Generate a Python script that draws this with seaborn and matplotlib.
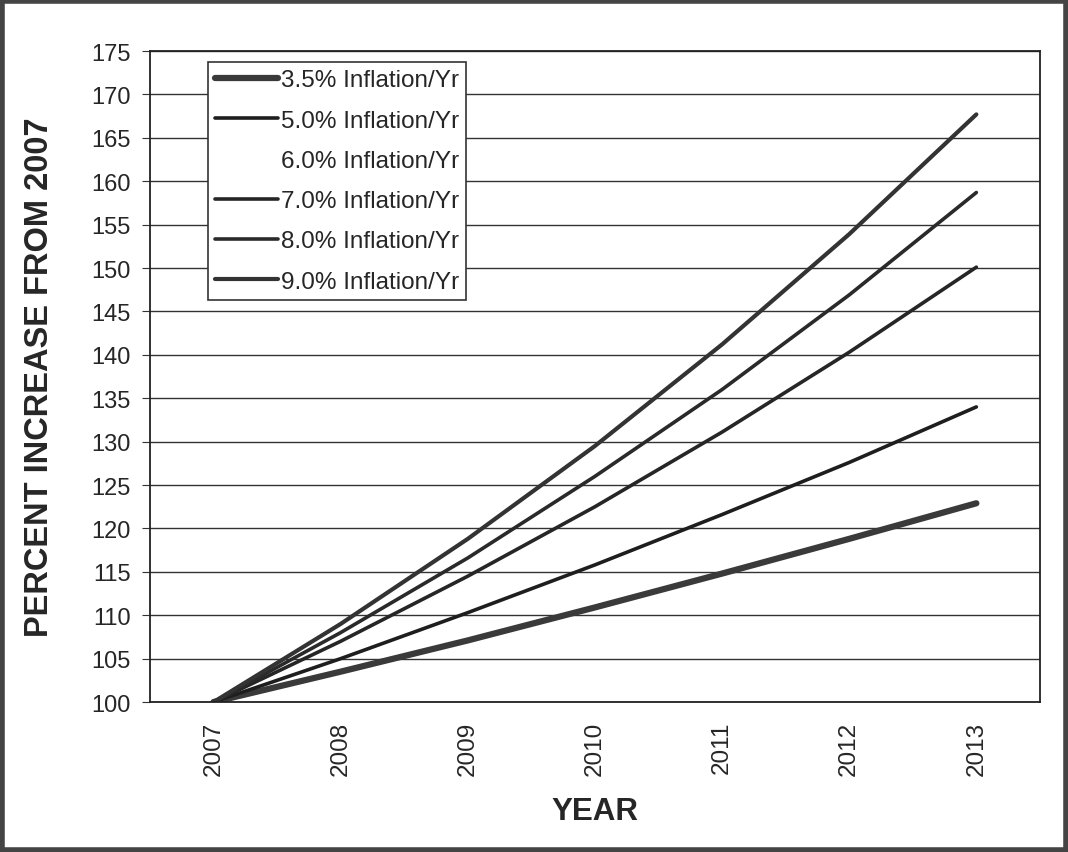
import matplotlib
matplotlib.use('Agg')
import matplotlib.pyplot as plt
import seaborn as sns
import pandas as pd
from matplotlib.patches import Rectangle

# 데이터
years = ['2007', '2008', '2009', '2010', '2011', '2012', '2013']
infl_35 = [100, 103.5, 107.1, 110.9, 114.8, 118.8, 122.9]
infl_50 = [100, 105.0, 110.3, 115.8, 121.6, 127.6, 134.0]
infl_60 = [100, 106.0, 112.4, 119.1, 126.2, 133.8, 141.9]
infl_70 = [100, 107.0, 114.5, 122.5, 131.1, 140.3, 150.1]
infl_80 = [100, 108.0, 116.6, 126.0, 136.0, 146.9, 158.7]
infl_90 = [100, 109.0, 118.8, 129.5, 141.2, 153.9, 167.7]
labels = ['3.5% Inflation/Yr', '5.0% Inflation/Yr', '6.0% Inflation/Yr',
          '7.0% Inflation/Yr', '8.0% Inflation/Yr', '9.0% Inflation/Yr']
series = [infl_35, infl_50, infl_60, infl_70, infl_80, infl_90]

sns.set_style('white')
plt.rcParams['font.family'] = ['Liberation Sans', 'DejaVu Sans']

rows = []
for lab, vals in zip(labels, series):
    for i, v in enumerate(vals):
        rows.append({'pos': i, 'value': v, 'series': lab})
df = pd.DataFrame(rows)

# 6% 선은 원본에서 보이지 않음
colors = ['#3a3a3a', '#1e1e1e', 'none', '#262626', '#2a2a2a', '#333333']
widths = [4.5, 2.6, 2.6, 2.6, 2.6, 3.0]

fig = plt.figure(figsize=(10.68, 8.53), dpi=100)
ax = fig.add_axes([0.1404, 0.1758, 0.8333, 0.7632])

for lab, c, w in zip(labels, colors, widths):
    sns.lineplot(data=df[df['series'] == lab], x='pos', y='value', ax=ax,
                 color=c, linewidth=w, label=lab, legend=False)

ax.set_ylim(100, 175)
ax.set_yticks(range(100, 176, 5))
ax.set_xlim(-0.5, 6.5)
ax.set_xticks(range(len(years)))
ax.set_xticklabels(years, rotation=90, fontsize=17.5)
ax.set_xticks([i - 0.5 for i in range(len(years) + 1)], minor=True)
ax.tick_params(axis='x', which='major', length=0, pad=13.5)
ax.tick_params(axis='x', which='minor', length=5, direction='out', color='#333')
ax.tick_params(axis='y', labelsize=17, length=6, pad=8, direction='out', color='#333', left=True)
ax.yaxis.grid(True, color='#333', linewidth=1.0)
ax.xaxis.grid(False)
for s in ax.spines.values():
    s.set_color('#222')
    s.set_linewidth(1.3)

ax.set_xlabel('YEAR', fontsize=22.5, fontweight='bold', labelpad=15)
ax.set_ylabel('PERCENT INCREASE FROM 2007', fontsize=23.5, fontweight='bold', labelpad=26)

leg = ax.legend(loc='upper left', bbox_to_anchor=(0.0652, 0.983), fontsize=17.5,
                frameon=True, fancybox=False, edgecolor='#333', framealpha=1,
                handlelength=2.6, handletextpad=0.1, labelspacing=0.75,
                borderpad=0.3, borderaxespad=0)
leg.get_frame().set_linewidth(1.2)

fig.patches.append(Rectangle((0.002, 0.002), 0.996, 0.996, transform=fig.transFigure,
                             fill=False, edgecolor='#444', linewidth=4))

fig.savefig('out.png', dpi=100)
